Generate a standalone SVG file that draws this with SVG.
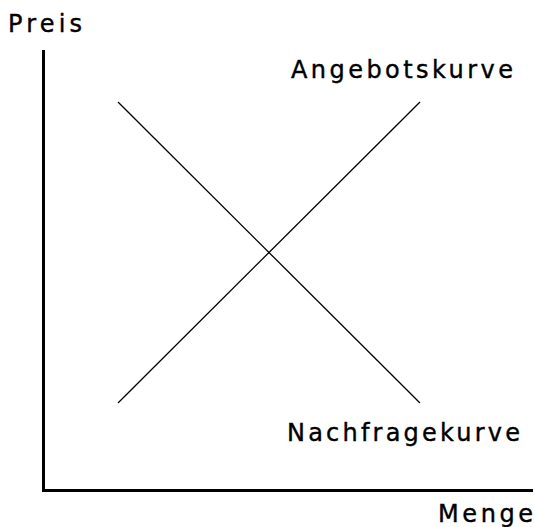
<svg xmlns="http://www.w3.org/2000/svg" width="535" height="527" viewBox="0 0 535 527">
<style>
.axis{stroke:#000;stroke-width:3;fill:none;shape-rendering:crispEdges}
.curve{stroke:#000;stroke-width:1.3;fill:none}
.lbl{font-family:"DejaVu Sans","Liberation Sans",Arial,sans-serif;font-size:24px;fill:#000;stroke:#000;stroke-width:0.4}
</style>
<rect width="535" height="527" fill="#fff"/>
<g id="connectors">
<polyline class="axis" points="43,50 43,490 533,490"/>
<line class="curve" x1="118" y1="403" x2="420" y2="102"/>
<line class="curve" x1="118" y1="102" x2="420" y2="403"/>
</g>
<g id="preis"><text class="lbl" x="8" y="32" textLength="74" lengthAdjust="spacing">Preis</text></g>
<g id="angebotskurve"><text class="lbl" x="291" y="78" textLength="222" lengthAdjust="spacing">Angebotskurve</text></g>
<g id="nachfragekurve"><text class="lbl" x="287" y="441" textLength="233" lengthAdjust="spacing">Nachfragekurve</text></g>
<g id="menge"><text class="lbl" x="438" y="522" textLength="95" lengthAdjust="spacing">Menge</text></g>
</svg>
